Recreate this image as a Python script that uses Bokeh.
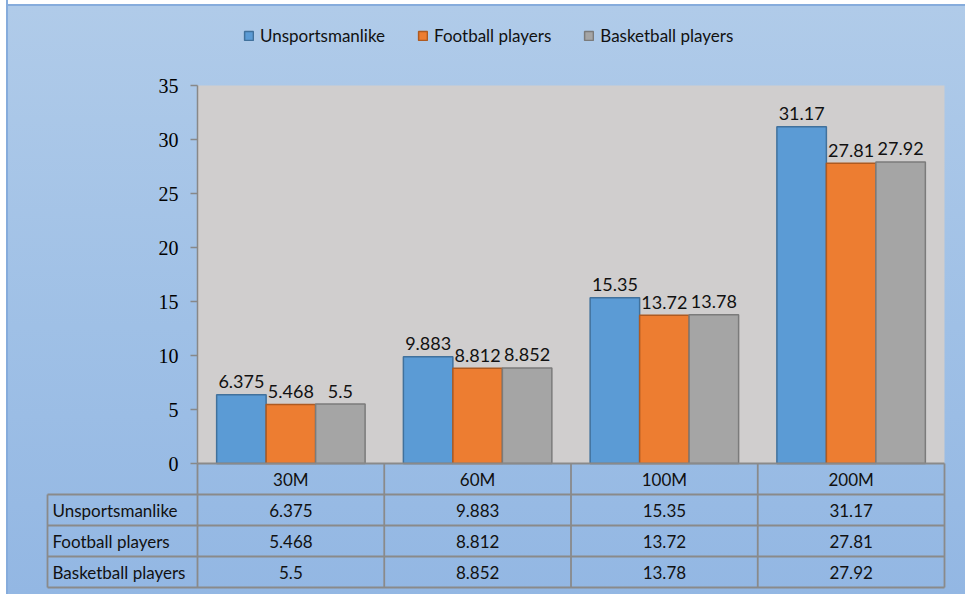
from bokeh.plotting import figure
from bokeh.models import (Range1d, FixedTicker, Legend, LegendItem, BoxAnnotation,
                          ColumnDataSource)
from bokeh.embed import file_html
from bokeh.resources import INLINE
from bokeh.core.properties import value

# ---------------- data ----------------
categories = ["30M", "60M", "100M", "200M"]
series_names = ["Unsportsmanlike", "Football players", "Basketball players"]
unsportsmanlike = [6.375, 9.883, 15.35, 31.17]
football_players = [5.468, 8.812, 13.72, 27.81]
basketball_players = [5.5, 8.852, 13.78, 27.92]
y_ticks = [0, 5, 10, 15, 20, 25, 30, 35]

series_values = [unsportsmanlike, football_players, basketball_players]

# ---------------- styling / layout constants ----------------
fill_colors = ["#5b9bd5", "#ed7d31", "#a5a5a5"]
edge_colors = ["#41719c", "#ae5a21", "#7b7b7b"]
plot_bg = "#d0cece"
grid_col = "#8a8a8a"
text_col = "#111111"
FONT = "Lato"

W, H = 965, 594
PAGE = 0
FL, FR, FT, FB = 45, 946, 15, 589          # frame edges (screen px)
X0, CAT_PX = 197, 186.75                   # plot-area left edge, px per category
Y0, Y_PX = 463, 378 / 35                   # zero line, px per unit
ROW_PX = 31                                # table row height
TABLE_LEFT_PX = 47

x_range = Range1d((FL - X0) / CAT_PX, (FR - X0) / CAT_PX)
y_range = Range1d(-(FB - Y0) / Y_PX, (Y0 - FT) / Y_PX)

p = figure(width=W, height=H, x_range=x_range, y_range=y_range,
           output_backend="svg", toolbar_location=None,
           x_axis_location=None, y_axis_location="left",
           min_border_left=FL - PAGE, min_border_right=PAGE + W - FR,
           min_border_top=FT - PAGE, min_border_bottom=PAGE + H - FB)
p.extra_y_ranges = {"table": Range1d(-(FB - Y0) / ROW_PX, (Y0 - FT) / ROW_PX)}
p.background_fill_color = None
p.border_fill_color = None
p.outline_line_color = None
p.grid.visible = False
p.styles = {
    "background": ("linear-gradient(to right, #ffffff 0px, #ffffff 6px, #86acdc 6px, "
                   "#86acdc 8px, transparent 8px), "
                   "linear-gradient(to bottom, #ffffff 0px, #ffffff 4px, #86acdc 4px, "
                   "#86acdc 6px, #b0cbe9 6px, #9fc0e6 55%, #93b7e3 100%)"),
}

n = len(categories)
m = len(series_names)

# plot area background
p.add_layout(BoxAnnotation(left=0, right=n, bottom=0, top=y_ticks[-1],
                           fill_color=plot_bg, fill_alpha=1, line_color=None,
                           level="underlay"))

# ---------------- bars ----------------
bar_w = 0.265
offsets = [(k - (m - 1) / 2) * bar_w for k in range(m)]
legend_items = []
for k, (name, vals) in enumerate(zip(series_names, series_values)):
    xs = [i + 0.5 + offsets[k] for i in range(n)]
    src = ColumnDataSource(dict(x=xs, top=vals, label=[str(v) for v in vals]))
    r = p.vbar(x="x", top="top", bottom=0, width=bar_w, source=src,
               fill_color=fill_colors[k], line_color=edge_colors[k], line_width=1.5)
    p.text(x="x", y="top", text="label", source=src, text_align="center",
           text_baseline="alphabetic", y_offset=-13,
           text_font=value(FONT), text_font_size="18px", text_color=text_col)
    legend_items.append(LegendItem(label=name, renderers=[r]))

# ---------------- y axis ----------------
ax = p.yaxis[0]
ax.fixed_location = 0
ax.bounds = (0, y_ticks[-1])
ax.ticker = FixedTicker(ticks=y_ticks)
ax.major_tick_out = 7
ax.major_tick_in = 0
ax.minor_tick_out = 0
ax.minor_tick_in = 0
ax.axis_line_color = "#888888"
ax.axis_line_width = 1.5
ax.major_tick_line_color = "#888888"
ax.major_tick_line_width = 1.5
ax.major_label_text_font = "Liberation Serif"
ax.major_label_text_font_size = "20px"
ax.major_label_text_color = "#000000"
ax.major_label_standoff = 12

# ---------------- data table ----------------
left_x = -(X0 - TABLE_LEFT_PX) / CAT_PX
hx0 = [0] + [left_x] * m + [left_x]
hx1 = [n] * (m + 2)
hy = [0] + [-(k + 1) for k in range(m)] + [-(m + 1)]
p.segment(x0=hx0, x1=hx1, y0=hy, y1=hy, y_range_name="table",
          line_color=grid_col, line_width=1.8)
vx = [left_x] + list(range(n + 1))
vy0 = [-1] + [0] * (n + 1)
vy1 = [-(m + 1)] * (n + 2)
p.segment(x0=vx, x1=vx, y0=vy0, y1=vy1, y_range_name="table",
          line_color=grid_col, line_width=1.8)

# header
p.text(x=[i + 0.5 for i in range(n)], y=[-0.5] * n, text=categories,
       y_range_name="table", text_align="center", text_baseline="middle",
       text_font=value(FONT), text_font_size="17px", text_color=text_col)
# row labels
p.text(x=[left_x] * m, y=[-(k + 1.5) for k in range(m)], text=series_names,
       y_range_name="table", text_align="left", text_baseline="middle", x_offset=5,
       text_font=value(FONT), text_font_size="17px", text_color=text_col)
# values
for k, vals in enumerate(series_values):
    p.text(x=[i + 0.5 for i in range(n)], y=[-(k + 1.5)] * n,
           text=[str(v) for v in vals], y_range_name="table",
           text_align="center", text_baseline="middle",
           text_font=value(FONT), text_font_size="17px", text_color=text_col)

# ---------------- legend ----------------
legend = Legend(items=legend_items, orientation="horizontal",
                location=(243 - FL, FB - 46), glyph_width=11, glyph_height=11,
                label_standoff=6, spacing=32, padding=0, margin=0,
                border_line_color=None, background_fill_alpha=0,
                label_text_font=FONT, label_text_font_size="17px",
                label_text_color=text_col, label_height=20)
p.add_layout(legend)

open("out.html", "w").write(file_html(p, INLINE))
